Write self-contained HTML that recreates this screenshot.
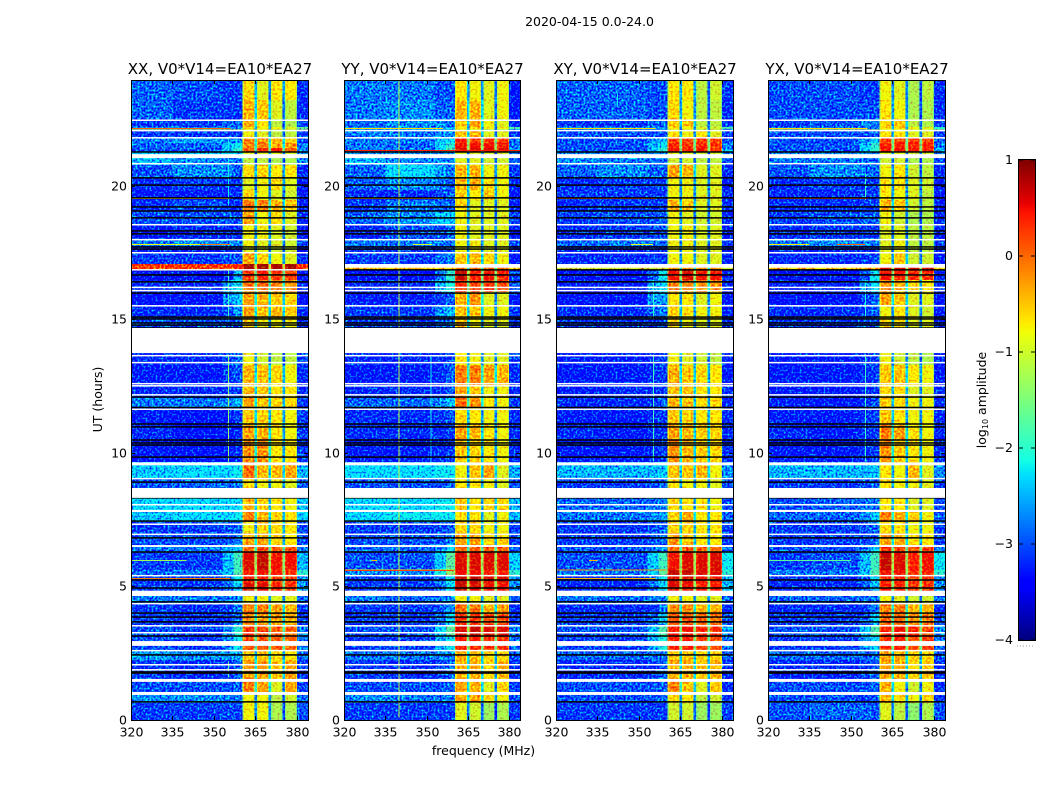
<!DOCTYPE html>
<html lang="en">
<head>
<meta charset="utf-8">
<title>2020-04-15 0.0-24.0</title>
<style>
html,body{margin:0;padding:0;background:#fff;width:1050px;height:800px;overflow:hidden}
svg{display:block}
text{font-family:"DejaVu Sans","Liberation Sans",sans-serif;fill:#000}
</style>
</head>
<body>
<svg id="chart" width="1050" height="800" viewBox="0 0 1050 800" xmlns="http://www.w3.org/2000/svg">
<defs>
<filter id="grain" x="0" y="0" width="100%" height="100%" color-interpolation-filters="sRGB">
<feTurbulence type="fractalNoise" baseFrequency="0.5" numOctaves="1" seed="7" result="n"/>
<feColorMatrix in="n" type="matrix" values="0 0 0 0 .5  0 1 0 0 0  0 0 0 0 .5  0 0 0 0 1" result="g"/>
<feComposite in="SourceGraphic" in2="g" operator="arithmetic" k1="0" k2="1" k3="2.4" k4="-1.2" result="m"/>
<feComposite in="m" in2="SourceGraphic" operator="in"/>
</filter>
<filter id="grainSoft" x="0" y="0" width="100%" height="100%" color-interpolation-filters="sRGB">
<feTurbulence type="fractalNoise" baseFrequency="0.45" numOctaves="1" seed="3" result="n"/>
<feColorMatrix in="n" type="matrix" values="0 0 0 0 .5  0 1 0 0 0  0 0 0 0 .5  0 0 0 0 1" result="g"/>
<feComposite in="SourceGraphic" in2="g" operator="arithmetic" k1="0" k2="1" k3="1.4" k4="-.7" result="m"/>
<feComposite in="m" in2="SourceGraphic" operator="in"/>
</filter>
</defs>
<text x="589.5" y="26" font-size="12.5" text-anchor="middle">2020-04-15 0.0-24.0</text>
<text x="483.5" y="755" font-size="12.5" text-anchor="middle">frequency (MHz)</text>
<text x="0" y="0" font-size="12.5" text-anchor="middle" transform="translate(102 399.5) rotate(-90)">UT (hours)</text>
<text x="0" y="0" font-size="12.5" text-anchor="middle" transform="translate(986 400) rotate(-90)">log<tspan font-size="8" dy="2">10</tspan><tspan dy="-2"> amplitude</tspan></text>
<g id="panels"></g>
<g id="colorbar"></g>
</svg>
<script>
// Time bands (UT hours, top of the plot downward)
const rowEdges = [24,23.25,22.54,22.24,22.16,22.09,21.86,21.64,21.45,21.3,21.15,20.81,20.33,19.88,19.5,19.05,18.56,18,17.78,17.55,17.1,16.99,16.88,16.5,16.05,15.56,15.08,14.7,13.76,13.31,12.56,12.08,11.7,11.06,10.5,9.68,9.08,8.7,8.33,7.88,7.43,7.01,6.53,6.3,5.63,5.4,5.14,4.8,4.39,3.98,3.56,3.15,2.63,2.25,1.5,1.01,.64,0];

// Levels per time band (log10 amplitude): low, mid, wing1, wing2, strip1..strip4, right
const xxLevels = [
[-2.7,-2.8,-2.9,-2.9,-.7,-1,-.8,-.8,-3],[-2.7,-2.9,-2.9,-2.9,-.5,-.6,-1,-1.2,-3],[-2.9,-2.9,-2.7,-2.7,-.4,-.8,-1.2,-1.3,-2.9],[-2.5,-2.5,-2.5,-2.5,-.6,-.8,-.9,-1,-1.5],[-2.5,-2.5,-2.6,-2.5,-1,-1.1,-1.3,-1.3,-2.5],[-2.9,-2.9,-2.9,-2.9,-.9,-1,-1.2,-1.2,-2.9],
[-2.6,-2.4,-2.6,-2.5,-.3,-.3,-.5,-.7,-2.8],[-2.7,-2.7,-2.2,-2,-.2,-.2,-.4,-.3,-2.6],[-2.8,-2.8,-2.2,-1.8,0,.2,.3,-.1,-2.5],[-2.2,-2.2,-2.2,-2.2,-1,-1,-1,-1.1,-2.4],[-2.3,-2.5,-2.6,-2.6,-1.2,-1.2,-1.3,-1.3,-2.6],[-2.8,-2.5,-2.5,-2.8,-.7,-.7,-.8,-.8,-3],
[-3,-2.9,-2.9,-2.9,-1,-.9,-.7,-1,-3.1],[-3.1,-3.1,-3,-3,-.7,-.9,-1,-1.1,-3.1],[-3,-2.8,-3,-3,-.2,-.2,-.5,-.6,-3.1],[-2.8,-2.8,-2.7,-2.8,-.4,-.9,-.7,-1,-3],[-3.1,-3,-3,-3,-.9,-.9,-1,-1.1,-3.2],[-2.6,-2.5,-2.5,-2.6,-.9,-1,-1,-1.1,-2.8],
[-3.1,-3.1,-3,-3,-1,-1,-1.1,-1.1,-3.2],[-2.9,-2.9,-2.8,-2.8,-.4,-.7,-.9,-1,-3],[.5,.5,.5,.6,.75,.75,.75,.75,.6],[.5,.5,.5,.55,.7,.7,.7,.7,.6],[-3.3,-3.3,-3.1,-2.2,.2,.3,.2,.1,-3.2],[-3,-3,-2.4,-2,-.1,-.1,-.2,-.3,-3],
[-3.2,-3.2,-2.5,-2.2,-.4,-.5,-.6,-.7,-3.2],[-3,-3,-2.8,-2.4,-.4,-.6,-.5,-.6,-3],[-2.8,-2.8,-2.8,-2.8,-.6,-.9,-.9,-.9,-3],[-3,-3,-3,-3,-1,-1,-1,-1,-3],[-3,-3,-2.8,-2.7,-.9,-1.1,-1.2,-1.2,-2.9],[-3.1,-3.1,-2.9,-2.8,-.5,-.6,-.7,-.9,-3],
[-3,-3,-2.9,-2.9,-.5,-.6,-.8,-.8,-3],[-2.6,-2.6,-2.5,-2.3,-.4,-.6,-.7,-.7,-2.9],[-3.1,-3.2,-3.1,-2.9,-.6,-.7,-.8,-.9,-2.9],[-3,-3.2,-3.1,-3,-.4,-.5,-.8,-.9,-2.9],[-3.1,-3.2,-3.1,-3,-.3,-.3,-.8,-.8,-2.9],[-2.2,-2.1,-2.1,-2,-.1,-.5,-.5,-.4,-2.3],
[-2.8,-2.7,-2.7,-2.6,-.8,-.9,-.9,-1,-2.7],[-2.5,-2.5,-2.5,-2.5,-1,-1,-1,-1,-2.5],[-2.1,-2.1,-2.1,-2.1,-.5,-.7,-.8,-.9,-2.2],[-2.2,-2.1,-2.1,-2,-.2,-.5,-.7,-.8,-2.2],[-2.9,-2.9,-2.8,-2.7,-.9,-.7,-.7,-.8,-2.8],[-2.8,-2.8,-2.8,-2.6,-.4,-.4,-.7,-.8,-2.8],
[-2.6,-2.6,-2.4,-2.2,-.1,0,0,0,-2.6],[-2.9,-2.9,-2.3,-1.7,.5,.6,.4,.4,-2.3],[-2.7,-2.6,-2.2,-1.6,.3,.4,.3,.2,-1.8],[-2.9,-2.9,-2.6,-2,.3,.3,.1,.1,-2.5],[-2.9,-2.9,-2.7,-2.2,.5,.5,.3,.2,-2.4],[-2.6,-2.6,-2.6,-2.5,-.9,-.9,-1,-1,-2.7],
[-2.9,-3,-2.9,-2.6,-.2,-.2,-.4,-.5,-2.9],[-2.9,-3,-2.9,-2.6,-.3,-.4,-.4,-.5,-2.9],[-2.8,-2.9,-2.5,-1.8,.2,.1,0,-.1,-2.6],[-2.8,-2.9,-2.5,-2,0,0,0,-.1,-2.6],[-2.4,-2.5,-2.4,-2.4,-.6,-.6,-.8,-.8,-2.7],[-2.9,-3,-2.9,-2.7,-.4,-.4,-.6,-.4,-2.9],
[-2.8,-2.8,-2.8,-2.7,-.2,-.4,-1,-.4,-2.9],[-2.5,-2.5,-2.6,-2.6,-.9,-.9,-1.2,-1.1,-2.7],[-2.9,-2.9,-2.8,-2.9,-.9,-.9,-1.3,-1.3,-2.8]
];
const yyLevels = [
[-2.6,-2.6,-2.8,-2.8,-.8,-.9,-1,-.9,-3.1],[-2.6,-2.5,-2.7,-2.7,-.5,-.5,-1,-.9,-3.1],[-2.7,-2.5,-2.5,-2.6,-.6,-.4,-.9,-1,-3],[-2.4,-2.4,-2.4,-2.4,-.7,-.7,-.9,-.9,-1.6],[-2.5,-2.4,-2.4,-2.4,-1,-1,-1.2,-1.2,-2.5],[-2.6,-2.6,-2.5,-2.5,-.6,-.5,-1,-1,-2.9],
[-2.6,-2.6,-2.3,-2.1,.3,.2,.2,.1,-2.7],[-2.6,-2.7,-2.1,-1.8,.4,.4,.4,.4,-2.6],[-2.6,-2.6,-2.1,-1.6,.5,.5,.5,.5,-2.4],[-2.5,-2.5,-2.5,-2.4,-1,-1,-1.1,-1.1,-2.6],[-2.3,-2.5,-2.5,-2.5,-1,-1,-1.1,-1.1,-2.8],[-2.7,-2.1,-2.4,-2.6,-.5,-.5,-.9,-.9,-2.9],
[-2.7,-2.5,-2.6,-2.7,-.5,-.5,-.7,-.9,-3],[-3,-3,-2.8,-2.7,-.7,-.8,-.6,-.9,-3.1],[-2.9,-2.6,-2.7,-2.7,-.7,-1,-1,-1,-3],[-2.7,-2.5,-2.2,-2.2,-.9,-1,-1,-1,-2.9],[-3,-2.8,-2.8,-2.7,-.9,-1,-1,-1,-3.1],[-2.6,-2.6,-2.6,-2.6,-.9,-.9,-1,-1,-2.9],
[-2.9,-2.9,-2.9,-2.8,-.9,-.9,-1,-1,-3.1],[-2.9,-2.9,-2.7,-2.6,-.6,-.5,-.7,-.9,-3.1],[-2,-2,-2,-2,-.6,-.6,-.6,-.6,-2],[-.4,-.4,-.4,-.4,-.2,-.1,-.1,-.1,-.4],[-3.2,-3.2,-2.6,-1.8,.6,.3,.4,.3,-2.9],[-3,-3,-2.3,-1.9,.2,.1,.2,.1,-2.8],
[-3.1,-3.1,-2.9,-2.7,-.5,-.3,-1,-1,-3.1],[-2.9,-2.9,-2.5,-2.3,-.6,-.6,-.9,-.9,-2.9],[-2.9,-2.9,-2.7,-2.6,-.5,-.9,-1,-1,-3],[-3,-3,-3,-3,-1,-1,-1,-1,-3],[-3,-3,-3,-2.9,-.8,-.9,-1,-1,-2.9],[-3.1,-3.1,-3,-2.7,-.2,-.2,-.4,-.5,-3],
[-3,-3,-3,-2.8,-.4,-.6,-.9,-.9,-3],[-2.7,-2.7,-2.5,-2.2,-.1,-.3,-.8,-.9,-2.9],[-3,-3,-2.9,-2.8,-.7,-.8,-.9,-.9,-3],[-3,-3,-3,-2.9,-.4,-.5,-.8,-.9,-3],[-3.1,-3.1,-3,-2.9,-.6,-.7,-.8,-.9,-3],[-2.1,-2.1,-2,-2,-.9,-.6,-.4,-1,-2.4],
[-2.8,-2.8,-2.8,-2.7,-.8,-.8,-.9,-1,-2.8],[-2.5,-2.5,-2.5,-2.5,-1,-1,-1,-1,-2.5],[-2.1,-2.1,-2,-2,-.6,-.8,-.7,-.7,-2.3],[-2.1,-2,-2,-2,-.8,-.8,-1,-.9,-2.3],[-2.9,-2.9,-2.8,-2.7,-.7,-.7,-.9,-.9,-2.9],[-2.8,-2.8,-2.8,-2.5,-.4,-.4,-.7,-.7,-2.9],
[-2.7,-2.7,-2.5,-2.1,-.1,0,0,0,-2.7],[-2.8,-2.8,-2.2,-1.5,.5,.5,.5,.5,-2.2],[-2.5,-2.5,-1.9,-1.2,.4,.4,.3,.3,-1.8],[-2.9,-2.9,-2.6,-2,.6,.6,.5,.5,-2.4],[-2.9,-2.9,-2.6,-2.1,.6,.5,.4,.4,-2.5],[-2.6,-2.7,-2.6,-2.5,-.9,-.9,-1,-1,-2.8],
[-2.9,-2.9,-2.8,-2.5,-.1,-.2,-.5,-.4,-3],[-2.9,-2.9,-2.6,-2.1,.2,.2,.1,.1,-2.9],[-2.8,-2.8,-2.1,-1.5,.5,.6,.5,.5,-2.5],[-2.9,-2.9,-2.4,-2,.3,.3,.2,.2,-2.7],[-2.6,-2.6,-2.5,-2.5,-.5,-.6,-.7,-.7,-2.8],[-2.9,-3,-2.9,-2.7,-.5,-.5,-.7,-.5,-3],
[-2.8,-2.8,-2.8,-2.7,-.4,-.5,-1,-.7,-2.9],[-2.5,-2.6,-2.6,-2.6,-.4,-.4,-.7,-.9,-2.8],[-2.9,-2.9,-2.9,-2.9,-1,-1.1,-1.4,-1.3,-2.9]
];
const xyLevels = [
[-2.7,-2.7,-2.8,-2.8,-.8,-.8,-1.2,-1.1,-2.9],[-2.7,-2.7,-2.8,-2.8,-.7,-.9,-1.2,-1.2,-3],[-2.9,-2.9,-2.7,-2.7,-.6,-.6,-1.2,-1.2,-2.9],[-2.5,-2.5,-2.5,-2.5,-.8,-.9,-1,-1.1,-1.6],[-2.6,-2.6,-2.6,-2.6,-1,-1,-1.2,-1.2,-2.6],[-2.8,-2.8,-2.8,-2.8,-.8,-.9,-.8,-1,-2.9],
[-2.8,-2.8,-2.5,-2.3,.1,.1,.2,.1,-2.8],[-2.8,-2.8,-2.3,-2,.3,.2,.3,.2,-2.6],[-2.8,-2.8,-2.3,-1.8,.4,.3,.4,.2,-2.4],[-2.5,-2.5,-2.5,-2.5,-1,-1,-1.1,-1.1,-2.6],[-2.5,-2.6,-2.7,-2.7,-1.1,-1.1,-1.2,-1.2,-2.8],[-2.7,-2.5,-2.7,-2.7,-.4,-.5,-1,-1,-3],
[-3,-2.9,-2.9,-2.9,-.9,-.9,-1,-1,-3.1],[-2.9,-2.9,-2.9,-2.9,-.9,-.9,-1,-1,-3],[-3,-2.9,-2.9,-2.9,-.5,-.6,-1,-1,-3],[-2.9,-2.8,-2.8,-2.7,-.9,-1,-1.1,-1.1,-3],[-3,-2.9,-2.8,-2.8,-.9,-.9,-1,-1,-3.1],[-2.7,-2.6,-2.6,-2.7,-.9,-.9,-1,-1,-2.9],
[-3,-3,-3,-3,-.9,-.9,-1,-1,-3.1],[-3,-3,-2.9,-2.9,-.9,-.9,-1,-1,-3],[-2,-2,-2,-2,-1,-1,-1,-1,-2],[-.8,-.8,-.8,-.8,-.3,-.3,-.3,-.3,-.8],[-3.2,-3.2,-2.7,-2,.4,.5,.4,.4,-3],[-3.1,-3.1,-2.4,-2.1,-.2,-.2,-.3,-.3,-3],
[-3.2,-3.2,-2.5,-2.4,-.8,-.8,-1,-.9,-3.2],[-3,-3,-2.7,-2.6,-.7,-.8,-.9,-.9,-3.1],[-2.9,-2.9,-2.9,-2.8,-.7,-.9,-1,-1,-3],[-3,-3,-3,-3,-1,-1,-1,-1,-3],[-3.1,-3.1,-3,-2.9,-.9,-1,-1.1,-1.2,-3],[-3.1,-3.1,-3,-2.9,-.5,-.6,-.7,-.8,-3.1],
[-3.1,-3,-3,-2.9,-.6,-.6,-.8,-.8,-3],[-3,-3,-3,-2.7,-.5,-.6,-.7,-.7,-3],[-3.1,-3.1,-3,-2.9,-.6,-.7,-.8,-.8,-3],[-3,-3.1,-3,-2.9,-.4,-.5,-.6,-.7,-3],[-3.1,-3.1,-3,-2.9,-.3,-.5,-.6,-.7,-3],[-2.3,-2.3,-2.3,-2.2,-.6,-.6,-.5,-.9,-2.5],
[-2.9,-2.9,-2.8,-2.7,-.8,-.9,-.9,-1,-2.9],[-2.6,-2.6,-2.6,-2.6,-1,-1,-1,-1,-2.6],[-2.7,-2.7,-2.6,-2.6,-.7,-.8,-.8,-.9,-2.8],[-2.6,-2.6,-2.5,-2.4,-.7,-.4,-.8,-.8,-2.7],[-2.9,-2.9,-2.8,-2.7,-.7,-.7,-.8,-.8,-2.9],[-2.9,-2.9,-2.8,-2.7,-.3,-.6,-.8,-.8,-2.9],
[-2.8,-2.8,-2.6,-2.4,-.1,0,-.1,-.1,-2.7],[-2.8,-2.8,-2.2,-1.7,.4,.5,.5,.5,-2],[-2.6,-2.6,-2.2,-1.5,.6,.6,.5,.5,-1.8],[-3,-3,-2.6,-2,.5,.5,.4,.4,-2.3],[-3,-3,-2.7,-2.1,.5,.4,.3,.3,-2.3],[-2.6,-2.7,-2.6,-2.5,-.9,-.9,-1,-1,-2.7],
[-3,-3,-2.9,-2.6,-.3,-.3,-.5,-.5,-3],[-2.9,-2.9,-2.7,-2.2,0,0,-.1,-.1,-2.8],[-2.8,-2.8,-2.2,-1.6,.3,.4,.3,.2,-2.4],[-2.9,-2.9,-2.4,-1.9,.3,.3,.1,.1,-2.6],[-2.7,-2.7,-2.6,-2.6,-.6,-.6,-.7,-.7,-2.8],[-3,-3,-2.9,-2.7,-.5,-.5,-.6,-.5,-3],
[-2.8,-2.8,-2.8,-2.7,-.2,-.6,-1,-.6,-3],[-2.8,-2.8,-2.8,-2.7,-.7,-.8,-1.2,-1.1,-2.9],[-2.9,-2.9,-2.9,-2.9,-1.1,-1.1,-1.4,-1.4,-2.9]
];
const yxLevels = [
[-2.8,-2.8,-2.9,-2.9,-.9,-1,-1.3,-1.2,-3],[-2.8,-2.8,-2.8,-2.8,-.8,-.9,-1.3,-1.3,-3],[-2.9,-2.8,-2.5,-2.6,-.7,-.6,-1.2,-1.3,-2.9],[-2.6,-2.6,-2.6,-2.6,-.7,-.7,-.9,-1,-1.8],[-2.6,-2.6,-2.6,-2.6,-1,-1,-1.2,-1.2,-2.6],[-2.8,-2.8,-2.8,-2.8,-.8,-.8,-1,-1,-2.9],
[-2.8,-2.8,-2.5,-2.2,.1,.1,.2,.1,-2.7],[-2.8,-2.8,-2.2,-1.8,.3,.3,.3,.3,-2.6],[-2.8,-2.8,-2.2,-1.8,.4,.4,.4,.3,-2.4],[-2.5,-2.5,-2.5,-2.5,-1,-1,-1.1,-1.1,-2.6],[-2.6,-2.6,-2.7,-2.7,-1.1,-1.1,-1.3,-1.3,-2.8],[-2.8,-2.5,-2.6,-2.7,-.9,-.8,-1.1,-1.2,-3],
[-3,-2.9,-2.9,-2.9,-.8,-.8,-1,-1.1,-3.1],[-3,-3,-2.9,-2.9,-.8,-.9,-1,-1.2,-3.1],[-3,-3,-2.9,-2.9,-.5,-.6,-1.1,-1.2,-3.1],[-2.9,-2.8,-2.7,-2.7,-.9,-1.1,-1.3,-1.3,-3],[-3,-2.9,-2.9,-2.9,-1,-1,-1.2,-1.2,-3.1],[-2.6,-2.5,-2.5,-2.6,-1,-.9,-1.2,-1.2,-2.9],
[-3,-3,-3,-3,-1,-.9,-1.2,-1.2,-3.1],[-3,-3,-2.9,-2.9,-.9,-.6,-1.1,-1.1,-3.1],[-2,-2,-2,-2,-1,-1,-1,-1,-2],[-.4,-.4,-.4,-.4,.5,.5,.5,.5,-.4],[-3.3,-3.2,-2.8,-2,.4,.3,.3,.2,-3],[-3.1,-3,-2.5,-2.1,-.3,-.5,-.7,-.8,-3],
[-3.2,-3.2,-2.9,-2.7,-.4,-.6,-1,-1,-3.2],[-3,-3,-2.9,-2.7,-.9,-.8,-1,-1.1,-3.1],[-2.9,-2.9,-2.8,-2.8,-.7,-.8,-1,-1,-3],[-3,-3,-3,-3,-1,-1,-1,-1,-3],[-3.1,-3.1,-3,-2.9,-.9,-1.1,-1.2,-1.3,-3],[-3.1,-3.1,-3,-2.9,-.6,-.6,-.8,-.9,-3.1],
[-3.1,-3.1,-3,-2.9,-.7,-.7,-1,-1,-3],[-3.1,-3.1,-3,-2.8,-.6,-.7,-.9,-.9,-3],[-3.1,-3.1,-3,-2.9,-.6,-.8,-.9,-.9,-3],[-3,-3.1,-3,-2.9,-.2,-.4,-.8,-.9,-3],[-3.1,-3.1,-3,-2.9,-.3,-.6,-.8,-.9,-3],[-2.3,-2.3,-2.3,-2.2,-.8,-.9,-.5,-1,-2.5],
[-2.9,-2.9,-2.8,-2.7,-.8,-.9,-.9,-1,-2.9],[-2.7,-2.7,-2.7,-2.7,-1,-1,-1,-1,-2.7],[-2.8,-2.7,-2.6,-2.6,-.8,-.8,-1,-1,-2.9],[-2.7,-2.7,-2.5,-2.2,-.2,-.5,-.6,-.9,-2.7],[-2.9,-2.9,-2.8,-2.7,-.7,-.8,-.9,-.9,-2.9],[-2.9,-2.9,-2.8,-2.7,-.4,-.5,-.8,-.8,-2.9],
[-2.8,-2.8,-2.6,-2.2,.2,.1,.1,.1,-2.6],[-2.9,-2.8,-2.3,-1.7,.6,.5,.3,.4,-2],[-2.6,-2.6,-2.2,-1.6,.4,.4,.3,.3,-1.8],[-3,-3,-2.7,-2.2,.3,.3,.2,.2,-2.5],[-3,-3,-2.7,-2.2,.3,.2,.2,.2,-2.5],[-2.7,-2.7,-2.7,-2.6,-.9,-1,-1.1,-1.1,-2.7],
[-3,-3,-2.9,-2.6,-.2,-.2,-.5,-.5,-3],[-2.9,-2.9,-2.7,-2.2,-.1,-.1,-.3,-.2,-2.8],[-2.8,-2.8,-2.2,-1.6,.3,.4,.3,.1,-2.5],[-2.9,-2.9,-2.4,-2.1,.2,.3,.1,.1,-2.7],[-2.7,-2.7,-2.7,-2.6,-.4,-.5,-.7,-.7,-2.8],[-3,-3,-2.9,-2.8,-.4,-.5,-.7,-.6,-3],
[-2.8,-2.8,-2.8,-2.7,-.5,-.9,-1.1,-.9,-3],[-2.8,-2.8,-2.9,-2.8,-.5,-.7,-.9,-.7,-2.9],[-2.8,-2.7,-2.7,-2.8,-1,-1.2,-1.5,-1.3,-2.8]
];

// Blank (flagged) time spans shared by all panels, [from hour, to hour]
const whiteSpans = [[22.52,22.47],[22.13,22.08],[21.86,21.81],[21.22,21.07],[20.89,20.85],[18.6,18.56],[18.04,17.99],[17.55,17.51],[16.25,16.21],[16.13,16.09],[15.56,15.52],[14.7,13.76],[13.69,13.64],[13.43,13.38],[12.64,12.6],[12.56,12.52],[12.22,12.17],[11.68,11.63],[9.66,9.55],[9.08,9.04],[8.7,8.33],[8.1,8.05],[7.88,7.8],[7.37,7.33],[6.99,6.95],[6.56,6.49],[5.44,5.4],[4.85,4.65],[4.39,4.35],[3.56,3.52],[3.3,3.26],[2.96,2.78],[2.63,2.59],[2.1,2.06],[1.91,1.87],[1.54,1.43],[1.05,.94]];
// Extra flagged spans per panel
const xxExtraWhite = [[16.91,16.87]];
const yyExtraWhite = [[17.1,16.96]];
const xyExtraWhite = [[17.1,16.96]];
const yxExtraWhite = [[17.1,16.96]];
// Zero-amplitude scans shared by all panels (hour centre)
const blackScans = [21.3,20.33,20.06,19.58,19.24,19.09,18.83,18.34,18.23,17.74,17.66,16.88,16.69,16.43,16.01,15.11,15.04,14.89,14.81,14.7,12.11,11.72,11.1,10.99,10.5,10.39,10.31,9.86,8.92,8.33,7.46,6.83,6.3,5.25,4.95,4.43,4.01,3.86,3.68,3.15,2.44,1.8,1.76,.68];

// Narrow RFI streaks per panel: [hour, from MHz, to MHz, level]
const xxStreaks = [[22.2,320,356,.05],[22.15,320,384,-.8],[19.58,320,356,-.7],[17.85,320,356,-.8],[17.85,345,356,-.1],[5.33,320,356,-.1],[6,320,340,-1.3]];
const yyStreaks = [[22.2,320,356,-.6],[21.37,320,384,.4],[19.58,320,356,-.4],[17.85,345,352,-.9],[5.65,320,360,-.7],[5.63,320,360,.2],[6,330,332,-.5]];
const xyStreaks = [[22.2,320,356,-.6],[19.58,320,356,.05],[17.85,347,355,-.9],[5.33,320,356,-.4],[5.65,320,360,-.2],[6,332,335,-.4]];
const yxStreaks = [[22.2,320,356,-.6],[22.15,320,384,-.8],[19.58,320,356,.05],[17.85,320,335,-.7],[17.85,345,355,.05],[6,320,350,-1.7]];
// Vertical RFI lines per panel: [MHz, from hour, to hour, level]
const xxLines = [[355,16.9,15,-1.9],[355,13.7,9.7,-1.4],[355,2.2,1.6,-1.7],[355,21.8,19.3,-2.2]];
const yyLines = [[339.8,24,.1,-1.1],[351.4,13.7,9.7,-2.2]];
const xyLines = [[355,13.7,9.7,-1.9],[355,16.5,15,-2],[342,23.5,23,-2.2]];
const yxLines = [[355,13.7,9.7,-1.9],[355,20.5,19.5,-1.9],[355,16.5,15,-2.1]];

// Receiver channels: [from MHz, to MHz, level column, bandpass offset]
const channels = [[320,335,0,-.2],[335,353,1,-.2],[353,357,2,-.2],[357,360.3,3,-.2],
[360.3,360.8,4,-.3],[360.8,364.4,4,.1],[364.4,364.7,4,-.2],[364.7,365.6,4,-1.8],
[365.6,366,5,-.2],[366,369.5,5,.1],[369.5,369.8,5,-.2],[369.8,370.7,5,-1.8],
[370.7,371.1,6,-.2],[371.1,374.5,6,.1],[374.5,374.8,6,-.2],[374.8,375.7,6,-1.8],
[375.7,376.1,7,-.2],[376.1,379.6,7,.1],[379.6,380,7,-.3],[380,384,8,-.2]];
const stripColumns = [4,5,6,7];

// Axis tick labels and panel names
const xTicks = [320,335,350,365,380];
const yTicks = [0,5,10,15,20];
const colorbarTicks = [1,0,-1,-2,-3,-4];
const panelTitles = ["XX, V0*V14=EA10*EA27","YY, V0*V14=EA10*EA27","XY, V0*V14=EA10*EA27","YX, V0*V14=EA10*EA27"];
const panelKeys = ["xx","yy","xy","yx"];
const panelLeft = [131,344,556,768];
const panelWidth = [177,176,177,177];
const panelLevels = [xxLevels,yyLevels,xyLevels,yxLevels];
const panelExtraWhite = [xxExtraWhite,yyExtraWhite,xyExtraWhite,yxExtraWhite];
const panelStreaks = [xxStreaks,yyStreaks,xyStreaks,yxStreaks];
const panelLines = [xxLines,yyLines,xyLines,yxLines];

const NS = "http://www.w3.org/2000/svg";
const plotTop = 80, plotBottom = 720;
function yScale(h){ return plotBottom - h * (plotBottom - plotTop) / 24; }
function yTickScale(h){ return 719.5 - h * 26.7; }
function xScale(p, mhz){ return panelLeft[p] + (mhz - 320) * panelWidth[p] / 64; }
function piece(t, pts){
  for (let i = 1; i < pts.length; i++) {
    if (t <= pts[i][0]) {
      const a = pts[i-1], b = pts[i];
      return a[1] + (b[1] - a[1]) * (t - a[0]) / (b[0] - a[0]);
    }
  }
  return pts[pts.length-1][1];
}
const jetR = [[0,0],[.35,0],[.66,1],[.89,1],[1,.5]];
const jetG = [[0,0],[.125,0],[.375,1],[.64,1],[.91,0],[1,0]];
const jetB = [[0,.5],[.11,1],[.34,1],[.65,0],[1,0]];
function colorOf(level){
  const t = Math.max(0, Math.min(1, (level + 4) / 5));
  const c = v => Math.round(255 * v);
  return "rgb(" + c(piece(t,jetR)) + "," + c(piece(t,jetG)) + "," + c(piece(t,jetB)) + ")";
}
function make(parent, tag, attrs){
  const el = document.createElementNS(NS, tag);
  for (const k in attrs) el.setAttribute(k, attrs[k]);
  parent.appendChild(el);
  return el;
}

const panelsRoot = document.getElementById("panels");
panelKeys.forEach(function(key, p){
  const L = panelLeft[p], W = panelWidth[p];
  const g = make(panelsRoot, "g", {});
  
  
  const title = make(g, "text", {x: L + W/2 + .5, y: 74, "font-size": 15, "text-anchor": "middle"});
  title.textContent = panelTitles[p];
  
  

  const cells = make(g, "g", {"shape-rendering": "crispEdges", filter: "url(#grain)"});
  
  
  const strips = make(g, "g", {"shape-rendering": "crispEdges", filter: "url(#grainSoft)"});
  
  
  panelLevels[p].forEach(function(row, r){
    const y0 = yScale(rowEdges[r]), y1 = yScale(rowEdges[r+1]);
    channels.forEach(function(ch){
      const x0 = xScale(p, ch[0]), x1 = xScale(p, ch[1]);
      const host = stripColumns.includes(ch[2]) ? strips : cells;
      const cell = make(host, "rect", {x: x0.toFixed(2), y: y0.toFixed(2), width: (x1-x0).toFixed(2), height: (y1-y0).toFixed(2), fill: colorOf(row[ch[2]] + ch[3])});
      
      
    });
  });
  const marks = make(g, "g", {});
  
  
  panelLines[p].forEach(function(v){
    const line = make(marks, "rect", {x: xScale(p, v[0]).toFixed(2), y: yScale(v[1]).toFixed(2), width: 1, height: (yScale(v[2]) - yScale(v[1])).toFixed(2), fill: colorOf(v[3]), "shape-rendering": "crispEdges"});
    
    
  });
  panelStreaks[p].forEach(function(s){
    const x0 = xScale(p, s[1]);
    const streak = make(marks, "rect", {x: x0.toFixed(2), y: yScale(s[0]).toFixed(2), width: (xScale(p, s[2]) - x0).toFixed(2), height: 1, fill: colorOf(s[3]), "shape-rendering": "crispEdges"});
    
    
  });
  blackScans.forEach(function(h){
    const scan = make(marks, "rect", {x: L, y: (yScale(h) - .75).toFixed(2), width: W, height: 1.5, fill: "#000"});
    
    
  });
  whiteSpans.concat(panelExtraWhite[p]).forEach(function(s){
    const y0 = yScale(s[0]);
    const gap = make(marks, "rect", {x: L, y: y0.toFixed(2), width: W, height: Math.max(1.5, yScale(s[1]) - y0).toFixed(2), fill: "#fff"});
    
    
  });

  const ticks = make(g, "g", {stroke: "#000", "stroke-width": 1, "shape-rendering": "crispEdges"});
  
  
  xTicks.forEach(function(v){
    const x = Math.round(xScale(p, v)) + .5;
    make(ticks, "line", {x1: x, x2: x, y1: plotBottom, y2: plotBottom - 4});
    make(ticks, "line", {x1: x, x2: x, y1: plotTop, y2: plotTop + 4});
    const t = make(g, "text", {x: x, y: 736.5, "font-size": 12.5, "text-anchor": "middle"});
    t.textContent = v;
    
    
  });
  yTicks.forEach(function(v){
    const y = Math.round(yTickScale(v)) + .5;
    make(ticks, "line", {x1: L, x2: L + 4, y1: y, y2: y});
    make(ticks, "line", {x1: L + W, x2: L + W - 4, y1: y, y2: y});
    const t = make(g, "text", {x: L - 4, y: y + 4, "font-size": 12.5, "text-anchor": "end"});
    t.textContent = v;
    
    
  });
  const frame = make(g, "rect", {x: L + .5, y: plotTop + .5, width: W, height: plotBottom - plotTop, fill: "none", stroke: "#000", "stroke-width": 1, "shape-rendering": "crispEdges"});
  
  
});

// Colorbar
const cb = document.getElementById("colorbar");
const cbLeft = 1019, cbWidth = 16, cbTop = 160, cbBottom = 640;
function cbY(v){ return cbBottom - (v + 4) * (cbBottom - cbTop) / 5; }
const cbSteps = make(cb, "g", {"shape-rendering": "crispEdges"});


for (let y = cbTop; y < cbBottom; y += 2) {
  const v = (cbBottom - y - 1) * 5 / (cbBottom - cbTop) - 4;
  const step = make(cbSteps, "rect", {x: cbLeft, y: y, width: cbWidth, height: 2, fill: colorOf(v)});
  
  
}
const cbFrame = make(cb, "rect", {x: cbLeft - .5, y: cbTop - .5, width: cbWidth + 1, height: cbBottom - cbTop + 1, fill: "none", stroke: "#000", "stroke-width": 1, "shape-rendering": "crispEdges"});


const dots = make(cb, "line", {x1: 1017, x2: 1035, y1: 646, y2: 646, stroke: "#999", "stroke-width": 1, "stroke-dasharray": "1 2"});


colorbarTicks.forEach(function(v){
  const y = Math.round(cbY(v));
  const a = make(cb, "line", {x1: cbLeft, x2: cbLeft + 4, y1: y, y2: y, stroke: "#000", "shape-rendering": "crispEdges"});
  
  
  const b = make(cb, "line", {x1: cbLeft + cbWidth, x2: cbLeft + cbWidth - 4, y1: y, y2: y, stroke: "#000", "shape-rendering": "crispEdges"});
  
  
  const t = make(cb, "text", {x: 1013, y: y + 4, "font-size": 12.5, "text-anchor": "end"});
  t.textContent = String(v).replace("-", "\u2212");
  
  
});
</script>
</body>
</html>
